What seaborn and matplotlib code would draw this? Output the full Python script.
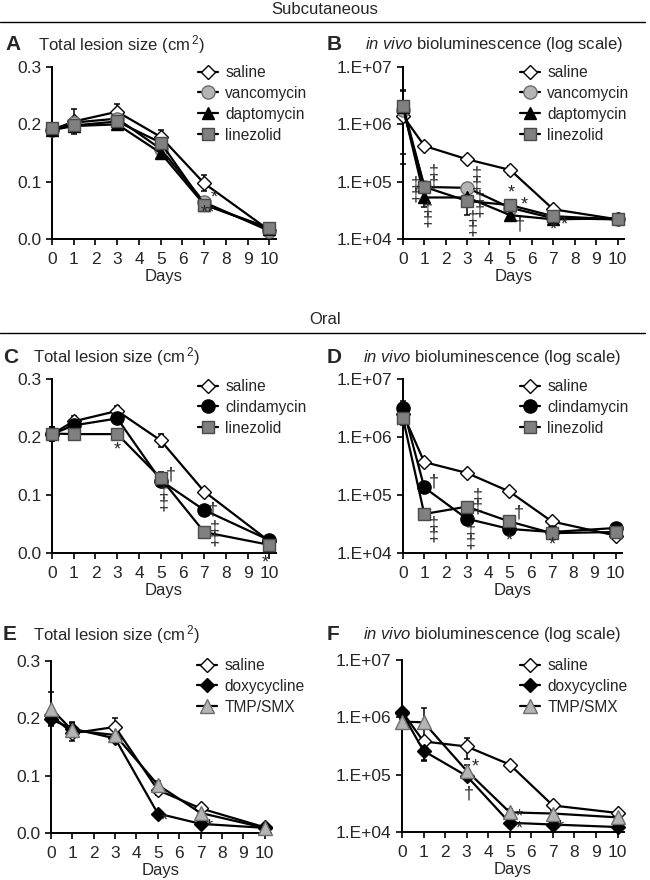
import numpy as np
import pandas as pd
import matplotlib
matplotlib.use('Agg')
import matplotlib.pyplot as plt
from matplotlib.lines import Line2D
from matplotlib.ticker import NullLocator
import seaborn as sns

days = [0, 1, 3, 5, 7, 10]

# A: subcutaneous, lesion size (cm2)
a_saline = [0.190, 0.205, 0.222, 0.178, 0.097, 0.015]
a_vanco = [0.190, 0.203, 0.210, 0.157, 0.064, 0.014]
a_dapto = [0.190, 0.197, 0.200, 0.150, 0.060, 0.018]
a_linez = [0.194, 0.198, 0.205, 0.168, 0.060, 0.019]
a_saline_err = [0.010, 0.022, 0.013, 0.012, 0.014, 0.003]
a_vanco_err = [0.008, 0.008, 0.008, 0.008, 0.006, 0.003]
a_dapto_err = [0.008, 0.006, 0.006, 0.008, 0.006, 0.003]
a_linez_err = [0.008, 0.006, 0.006, 0.008, 0.006, 0.003]

# B: subcutaneous, bioluminescence
b_saline = [1.4e6, 4.2e5, 2.45e5, 1.6e5, 3.3e4, 2.2e4]
b_vanco = [1.8e6, 8.1e4, 7.8e4, 3.5e4, 2.3e4, 2.2e4]
b_dapto = [2.0e6, 5.3e4, 5.3e4, 2.6e4, 2.2e4, 2.3e4]
b_linez = [2.1e6, 8.1e4, 4.6e4, 3.9e4, 2.5e4, 2.2e4]
b_saline_err = [2e5, 4e4, 2e4, 3e4, 4e3, 2e3]
b_vanco_err = [3e5, 1e4, 1e4, 5e3, 3e3, 2e3]
b_dapto_err = [1.8e6, 1.7e4, 1e4, 4e3, 3e3, 4e3]
b_linez_err = [1.8e6, 1e4, 2e4, 6e3, 4e3, 2e3]

# C: oral, lesion size
c_saline = [0.205, 0.227, 0.245, 0.194, 0.106, 0.020]
c_clinda = [0.205, 0.220, 0.232, 0.125, 0.074, 0.022]
c_linez = [0.206, 0.205, 0.205, 0.129, 0.036, 0.014]
c_saline_err = [0.012, 0.010, 0.008, 0.012, 0.006, 0.003]
c_clinda_err = [0.012, 0.008, 0.008, 0.010, 0.006, 0.003]
c_linez_err = [0.012, 0.006, 0.006, 0.010, 0.005, 0.003]

# D: oral, bioluminescence
d_saline = [2.5e6, 3.7e5, 2.4e5, 1.15e5, 3.5e4, 2.0e4]
d_clinda = [3.2e6, 1.35e5, 3.9e4, 2.6e4, 2.3e4, 2.7e4]
d_linez = [2.1e6, 4.7e4, 6.3e4, 3.5e4, 2.2e4, 2.3e4]
d_saline_err = [3e5, 3e4, 2e4, 1e4, 4e3, 2e3]
d_clinda_err = [1e6, 1.5e4, 5e3, 3e3, 2e3, 3e3]
d_linez_err = [5e5, 5e3, 8e3, 4e3, 2e3, 2e3]

# E: oral, lesion size
e_saline = [0.206, 0.174, 0.185, 0.075, 0.043, 0.010]
e_doxy = [0.198, 0.182, 0.165, 0.034, 0.016, 0.009]
e_tmp = [0.217, 0.179, 0.171, 0.084, 0.035, 0.009]
e_saline_err = [0.010, 0.013, 0.015, 0.008, 0.004, 0.002]
e_doxy_err = [0.012, 0.012, 0.006, 0.004, 0.003, 0.002]
e_tmp_err = [0.029, 0.012, 0.008, 0.006, 0.004, 0.002]

# F: oral, bioluminescence
f_saline = [1.26e6, 3.8e5, 3.1e5, 1.5e5, 2.9e4, 2.15e4]
f_doxy = [1.2e6, 2.6e5, 9.5e4, 1.45e4, 1.35e4, 1.22e4]
f_tmp = [8.4e5, 8.2e5, 1.17e5, 2.2e4, 2.1e4, 1.8e4]
f_saline_err = [1e5, 6e4, 1.2e5, 1e4, 3e3, 2e3]
f_doxy_err = [1e5, 8e4, 1.5e4, 1.5e3, 1e3, 1e3]
f_tmp_err = [1e5, 6.5e5, 3e4, 3e3, 2e3, 2e3]

# significance marks
dd = '‡\n‡'
a_notes = [(7.45, 0.071, '*'), (7.18, 0.046, '**')]
b_notes = [(0.59, 7.2e4, dd), (1.46, 1.18e5, dd), (1.18, 2.65e4, dd), (3.43, 1.08e5, dd),
           (3.58, 4.0e4, dd), (3.24, 1.8e4, dd),
           (5.05, 6.3e4, '*'), (5.64, 3.9e4, '*'), (5.44, 1.75e4, '†'),
           (6.99, 1.44e4, '*'), (7.53, 1.75e4, '*')]
c_notes = [(2.98, 0.178, '*'), (5.47, 0.134, '†'), (5.13, 0.094, dd),
           (7.4, 0.074, '†'), (7.51, 0.033, dd), (9.82, -0.017, '*')]
d_notes = [(1.47, 1.7e5, '†'), (1.47, 2.45e4, dd), (3.18, 1.9e4, dd), (3.53, 7.7e4, dd),
           (5.45, 4.8e4, '†'), (5.0, 1.6e4, '*'), (7.04, 1.37e4, '*')]
e_notes = [(5.3, 0.021, '*'), (7.4, 0.010, '*')]
f_notes = [(3.38, 1.38e5, '*'), (3.1, 4.6e4, '†'), (5.45, 1.45e4, '*\n*'), (7.36, 1.16e4, '*')]

sns.set_style('ticks')
plt.rcParams['font.family'] = ['Liberation Sans', 'DejaVu Sans']
plt.rcParams['mathtext.fontset'] = 'custom'
plt.rcParams['mathtext.rm'] = 'Liberation Sans'
plt.rcParams['mathtext.it'] = 'Liberation Sans:italic'
plt.rcParams['mathtext.bf'] = 'Liberation Sans:bold'

styles = {
    'saline': dict(marker='D', markerfacecolor='white', markeredgecolor='black', markersize=7.5),
    'vancomycin': dict(marker='o', markerfacecolor='#b4b4b4', markeredgecolor='#6e6e6e', markersize=9.5),
    'daptomycin': dict(marker='^', markerfacecolor='black', markeredgecolor='black', markersize=9),
    'linezolid': dict(marker='s', markerfacecolor='#808080', markeredgecolor='#4a4a4a', markersize=9),
    'clindamycin': dict(marker='o', markerfacecolor='black', markeredgecolor='black', markersize=9.5),
    'doxycycline': dict(marker='D', markerfacecolor='black', markeredgecolor='black', markersize=7.5),
    'TMP/SMX': dict(marker='^', markerfacecolor='#b4b4b4', markeredgecolor='#6e6e6e', markersize=10),
}

W, H = 650, 880
fig = plt.figure(figsize=(6.5, 8.8), dpi=100)


def px_rect(x0, y_top, x1, y_bot):
    return [x0 / W, 1 - y_bot / H, (x1 - x0) / W, (y_bot - y_top) / H]


def panel(rect, series, log, notes, leg_xy):
    ax = fig.add_axes(rect)
    for name, vals, errs in series:
        ax.errorbar(days, vals, yerr=errs, fmt='none', ecolor='black', elinewidth=1.1,
                    capsize=2.5, capthick=1.1, zorder=1.5, clip_on=False)
        sns.lineplot(x=days, y=vals, color='black', linewidth=1.6, label=name, ax=ax,
                     clip_on=False, zorder=3, markeredgewidth=1, **styles[name])
    ax.set_xlim(0, 10.3)
    ax.set_xticks(range(0, 11))
    if log:
        ax.set_yscale('log')
        ax.set_ylim(1e4, 1e7)
        ax.set_yticks([1e4, 1e5, 1e6, 1e7])
        ax.set_yticklabels(['1.E+04', '1.E+05', '1.E+06', '1.E+07'])
        ax.yaxis.set_minor_locator(NullLocator())
    else:
        ax.set_ylim(0, 0.3)
        ax.set_yticks([0, 0.1, 0.2, 0.3])
        ax.set_yticklabels(['0.0', '0.1', '0.2', '0.3'])
    ax.set_xlabel('Days', fontsize=12, labelpad=1)
    ax.set_ylabel('')
    ax.tick_params(axis='both', labelsize=12.5, width=1.2, length=4.5, direction='out',
                   color='black')
    ax.tick_params(axis='x', pad=5)
    ax.tick_params(axis='y', pad=3)
    sns.despine(ax=ax)
    for s in ['left', 'bottom']:
        ax.spines[s].set_linewidth(1.4)
        ax.spines[s].set_color('black')
    for x, y, s in notes:
        ax.text(x, y, s, ha='center', va='center', fontsize=13, linespacing=0.62,
                clip_on=False)
    ax.legend(loc='upper left', bbox_to_anchor=(leg_xy[0] / W, 1 - leg_xy[1] / H),
              bbox_transform=fig.transFigure, frameon=False, borderpad=0, borderaxespad=0,
              handlelength=1.3, handletextpad=0.45, labelspacing=0.38, fontsize=11.2)
    return ax


panel(px_rect(52, 67, 276, 239),
      [('saline', a_saline, a_saline_err), ('vancomycin', a_vanco, a_vanco_err),
       ('daptomycin', a_dapto, a_dapto_err), ('linezolid', a_linez, a_linez_err)],
      False, a_notes, (198, 65))
panel(px_rect(403, 67, 624, 239),
      [('saline', b_saline, b_saline_err), ('vancomycin', b_vanco, b_vanco_err),
       ('daptomycin', b_dapto, b_dapto_err), ('linezolid', b_linez, b_linez_err)],
      True, b_notes, (520, 65))
panel(px_rect(52, 379, 276, 553),
      [('saline', c_saline, c_saline_err), ('clindamycin', c_clinda, c_clinda_err),
       ('linezolid', c_linez, c_linez_err)],
      False, c_notes, (198, 379))
panel(px_rect(403, 379, 622, 553),
      [('saline', d_saline, d_saline_err), ('clindamycin', d_clinda, d_clinda_err),
       ('linezolid', d_linez, d_linez_err)],
      True, d_notes, (520, 379))
panel(px_rect(51, 661, 271, 833),
      [('saline', e_saline, e_saline_err), ('doxycycline', e_doxy, e_doxy_err),
       ('TMP/SMX', e_tmp, e_tmp_err)],
      False, e_notes, (197, 658))
panel(px_rect(402, 660, 624, 832),
      [('saline', f_saline, f_saline_err), ('doxycycline', f_doxy, f_doxy_err),
       ('TMP/SMX', f_tmp, f_tmp_err)],
      True, f_notes, (520, 658))

# section headers
for label, ty, ly in [('Subcutaneous', 10, 22), ('Oral', 320, 333)]:
    fig.text(325 / W, 1 - ty / H, label, ha='center', va='center', fontsize=12)
    fig.add_artist(Line2D([0, 645 / W], [1 - ly / H, 1 - ly / H], transform=fig.transFigure,
                          color='black', lw=1.0))

# panel titles
lesion = 'Total lesion size (cm$^{\\,2}$)'
biolum = '$\\it{in\\ vivo}$ bioluminescence (log scale)'
for letter, lx, tx, ty, title in [('A', 5, 38, 45, lesion), ('B', 327, 365, 45, biolum),
                                  ('C', 3, 33, 357, lesion), ('D', 327, 363, 357, biolum),
                                  ('E', 3, 33, 635, lesion), ('F', 327, 363, 635, biolum)]:
    fig.text(lx / W, 1 - ty / H, letter, ha='left', va='center', fontsize=15, fontweight='bold')
    fig.text(tx / W, 1 - ty / H, title, ha='left', va='center', fontsize=12)

fig.savefig('out.png', dpi=100)
